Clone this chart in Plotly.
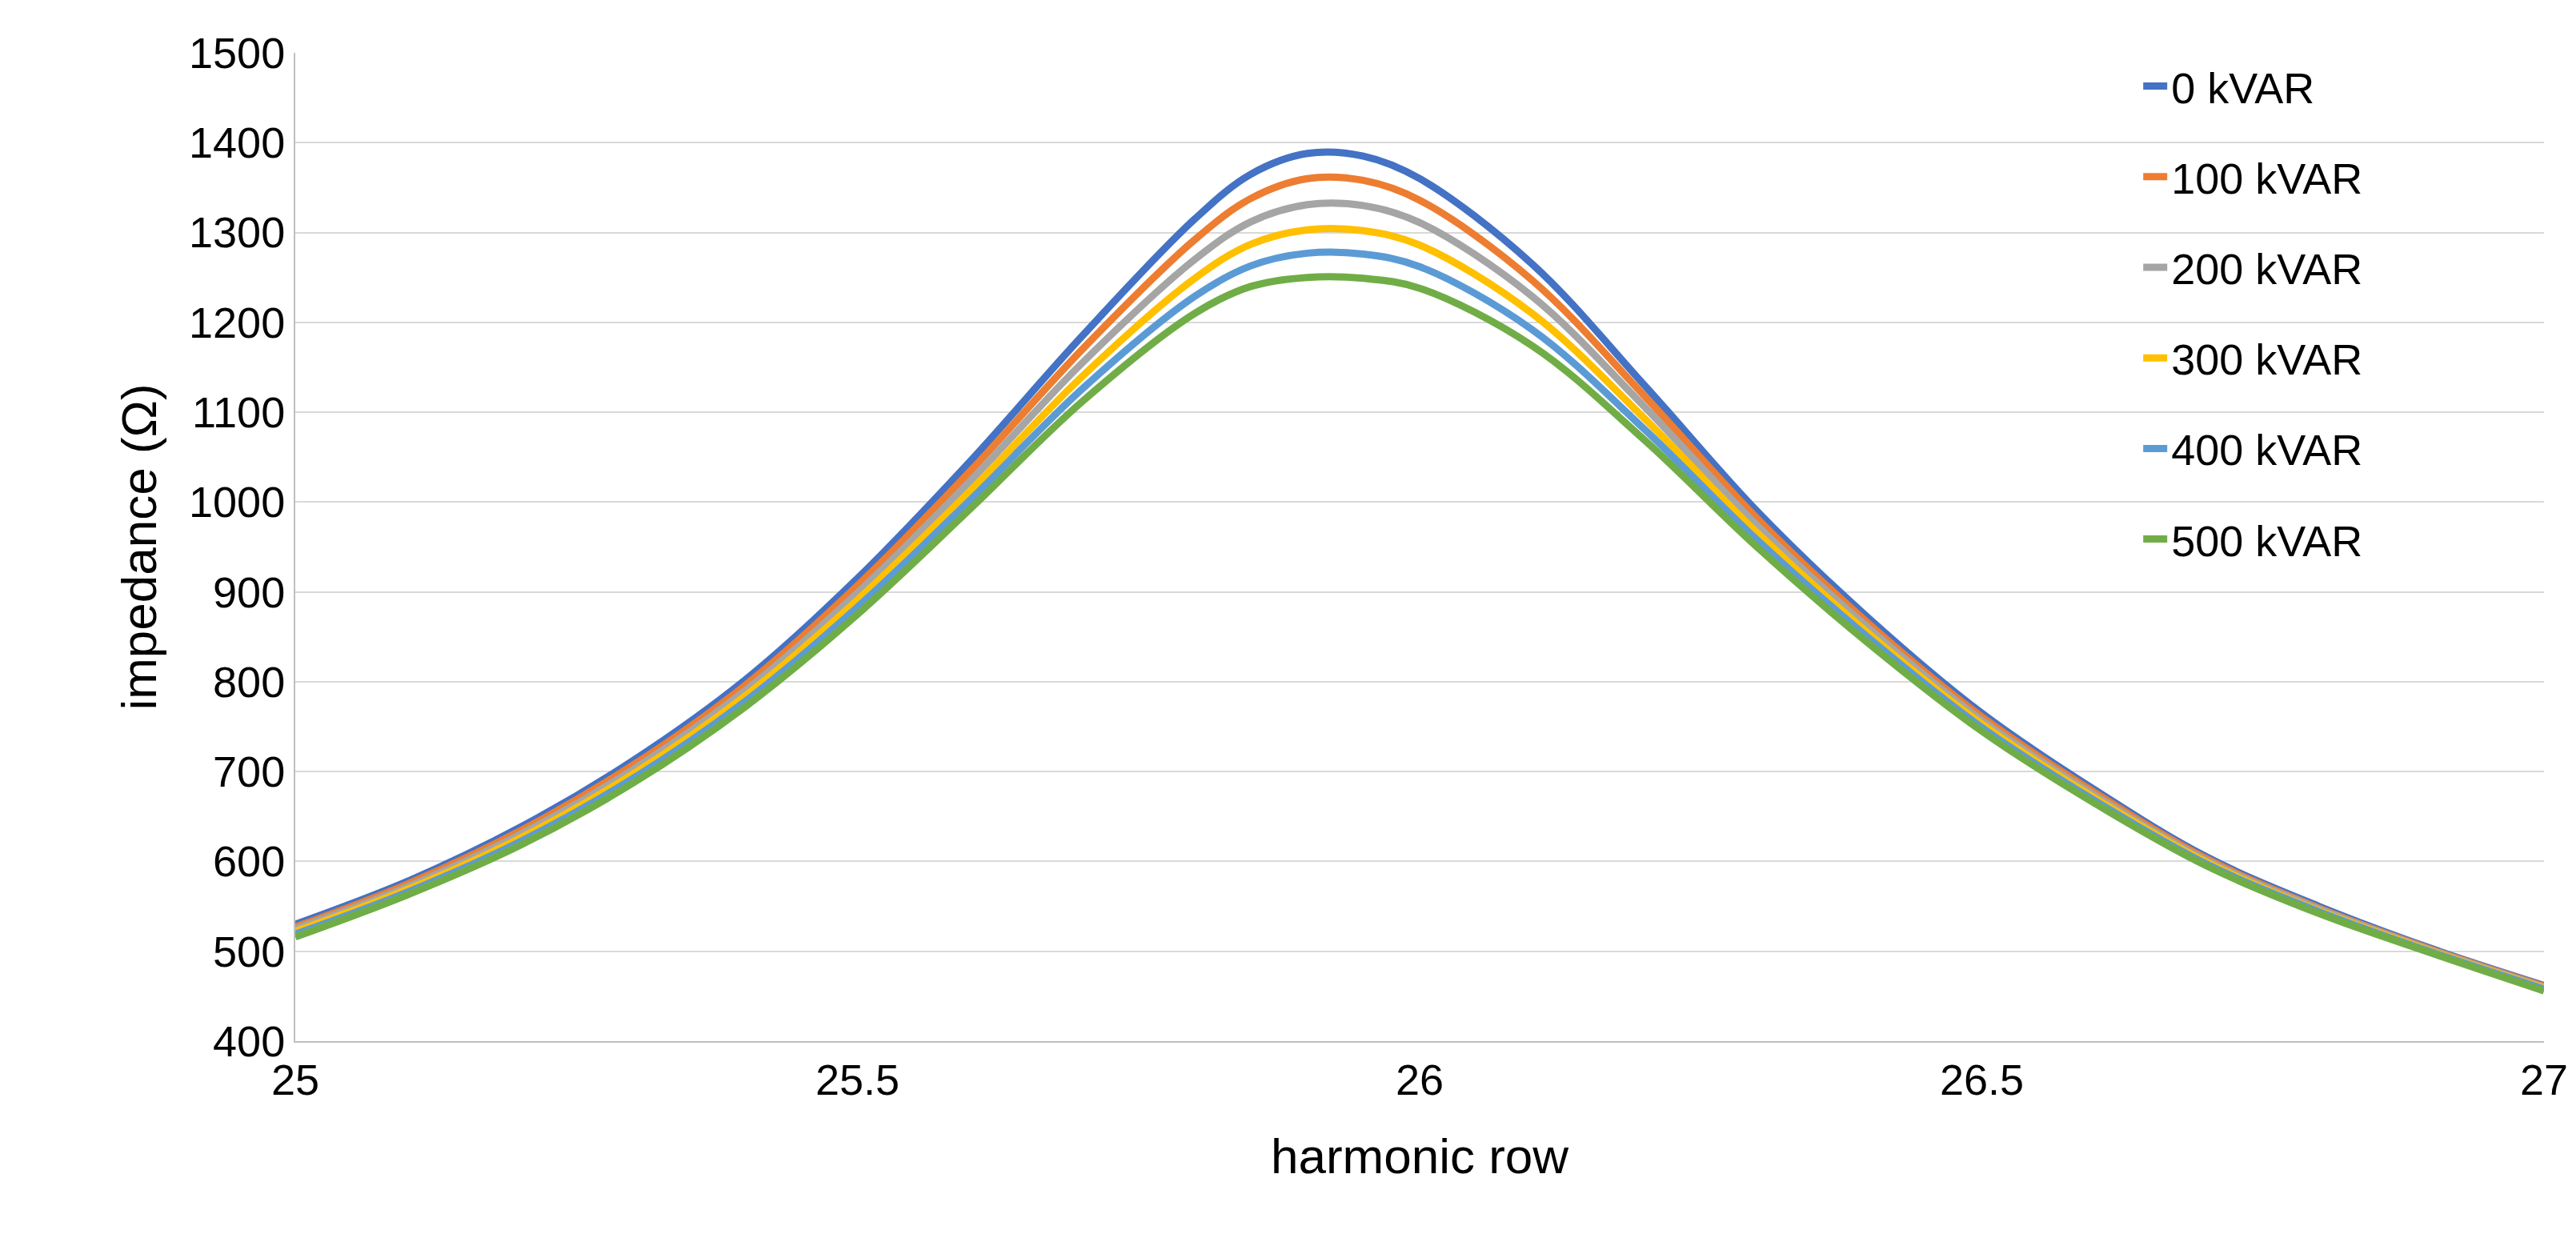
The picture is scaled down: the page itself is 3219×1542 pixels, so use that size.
import plotly.graph_objects as go

x = [25.0,25.1,25.2,25.3,25.4,25.5,25.6,25.7,25.8,25.85,25.9,25.95,26.0,26.1,26.2,26.3,26.4,26.5,26.6,26.7,26.8,26.9,27.0]
s0   = [530,578,638,712,802,915,1045,1185,1315,1365,1388,1385,1360,1265,1130,990,870,765,680,605,550,503,462]
s100 = [527,575,634,707,796,907,1034,1170,1292,1338,1360,1358,1336,1247,1118,982,864,761,677,603,548,502,461]
s200 = [525,572,630,702,790,899,1023,1155,1270,1312,1331,1330,1311,1229,1106,974,859,757,674,601,547,501,460]
s300 = [522,569,626,697,784,891,1012,1140,1249,1287,1303,1302,1286,1210,1093,966,853,753,671,599,545,500,459]
s400 = [519,566,622,692,778,883,1002,1126,1229,1263,1277,1276,1262,1192,1081,958,848,749,668,597,544,499,458]
s500 = [516,563,618,687,772,875,992,1112,1210,1240,1250,1249,1238,1174,1069,950,842,745,665,595,542,498,456]
names = ["0 kVAR","100 kVAR","200 kVAR","300 kVAR","400 kVAR","500 kVAR"]
series = [s0,s100,s200,s300,s400,s500]
colors = ["#4472C4","#ED7D31","#A5A5A5","#FFC000","#5B9BD5","#70AD47"]
xticks = [25,25.5,26,26.5,27]
xticklabels = ["25","25.5","26","26.5","27"]

font = "Liberation Sans"
fig = go.Figure()
for i,(n,s,c) in enumerate(zip(names,series,colors)):
    fig.add_trace(go.Scatter(x=x,y=s,name=n,mode="lines",line=dict(color=c,width=9,shape="spline"),legendgroup=str(i)))

fig.update_layout(
    width=3219,height=1542,plot_bgcolor="white",paper_bgcolor="white",
    margin=dict(l=361,r=48,t=58,b=249),
    font=dict(family=font,size=56,color="#000"),
    legend=dict(x=0.82,y=1.0,xanchor="left",yanchor="top",tracegroupgap=40,
                font=dict(size=54),bgcolor="rgba(0,0,0,0)"),
    xaxis=dict(range=[25,27],tickvals=xticks,ticktext=xticklabels,showgrid=False,
               showline=True,linecolor="#BFBFBF",linewidth=2,ticks="",zeroline=False,
               title=dict(text="harmonic row",font=dict(size=62),standoff=45),
               tickfont=dict(size=54)),
    yaxis=dict(range=[400,1500],dtick=100,showgrid=True,gridcolor="#D9D9D9",gridwidth=2,
               showline=True,linecolor="#BFBFBF",linewidth=2,zeroline=False,
               title=dict(text="impedance (Ω)",font=dict(size=62),standoff=20),
               tickfont=dict(size=54)),
)
fig.write_html("out.html")
